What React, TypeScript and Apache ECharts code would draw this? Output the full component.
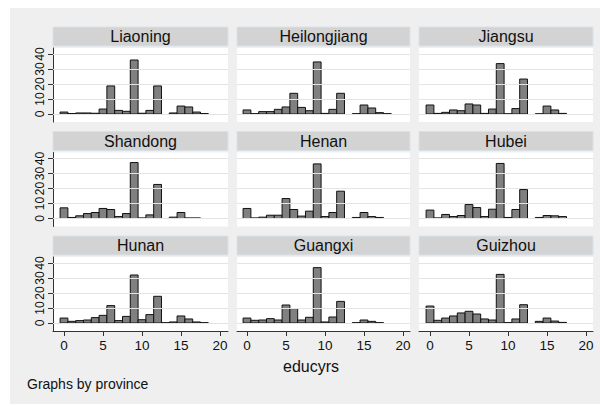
import React, { useEffect, useRef } from "react";
import * as echarts from "echarts";

const provinces = ["Liaoning", "Heilongjiang", "Jiangsu", "Shandong", "Henan", "Hubei", "Hunan", "Guangxi", "Guizhou"];
const educyrs = [0, 1, 2, 3, 4, 5, 6, 7, 8, 9, 10, 11, 12, 13, 14, 15, 16, 17, 18];
const xTicks = [0, 5, 10, 15, 20];
const yTicks = [0, 10, 20, 30, 40];

const liaoning = [1.3, 0.3, 0.7, 0.7, 0.5, 3.3, 18.7, 2.4, 1.8, 36, 0.5, 2.4, 18.7, null, 0.7, 5.3, 4.7, 1.3, 0.3];
const heilongjiang = [2.7, 0.2, 1.6, 1.6, 3.1, 4.7, 13.8, 4.4, 2.2, 34.7, 0.4, 3.1, 13.8, null, 0.2, 6, 4, 0.9, 0.2];
const jiangsu = [6, 0.4, 1.1, 2.7, 2.2, 6.7, 6, 0.4, 3.3, 33.6, 0.1, 3.6, 23.3, null, 0.1, 5.3, 2.7, 0.4, null];
const shandong = [7.1, 0.7, 1.8, 3.3, 4, 6.7, 6, 1.3, 3.3, 37.3, 0.4, 2.4, 22.7, null, 0.9, 4, 0.4, 0.4, null];
const henan = [6.7, 0.4, 0.9, 2.2, 2.2, 13.3, 6, 1.6, 4.9, 36.4, 1.3, 4, 18.2, null, 0.7, 4, 1.3, 0.7, null];
const hubei = [5.6, 0.4, 2.7, 1.3, 2, 9.3, 7.3, 1.3, 6.2, 36.7, 0.7, 6, 19.3, null, 0.7, 2, 1.8, 1.3, null];
const hunan = [3.3, 1.1, 1.6, 2, 3.6, 5.1, 11.6, 1.6, 4.4, 32, 2.2, 5.6, 17.8, 0.2, 0.7, 4.7, 2.7, 0.7, 0.2];
const guangxi = [3.3, 1.8, 2, 2.9, 2, 12, 9.6, 2, 3.8, 36.9, 0.7, 4, 14.4, null, 0.2, 2, 1.1, 0.2, null];
const guizhou = [11.3, 1.8, 3.3, 4.7, 6.7, 7.8, 6, 2.7, 2, 32.4, 0.2, 2.7, 12.2, null, 1.1, 3.3, 1.3, 0.4, null];

const panels = [liaoning, heilongjiang, jiangsu, shandong, henan, hubei, hunan, guangxi, guizhou];

const FONT = "'Liberation Sans', Arial, Helvetica, sans-serif";
const colLefts = [53, 237, 419];
const colWidths = [175, 173, 174];
const rowTops = [48, 152.5, 257];
const plotH = 74;

export default function App() {
  const ref = useRef<HTMLDivElement>(null);
  useEffect(() => {
    if (!ref.current) return;
    const chart = echarts.init(ref.current, null, { renderer: "svg" });
    const grids: any[] = [];
    const xAxes: any[] = [];
    const yAxes: any[] = [];
    const series: any[] = [];
    const graphics: any[] = [
      { type: "rect", shape: { x: 10, y: 8, width: 590, height: 396 }, style: { fill: "#efefef" }, z: -10 },
    ];
    panels.forEach((vals, i) => {
      const r = Math.floor(i / 3);
      const c = i % 3;
      grids.push({
        left: colLefts[c],
        top: rowTops[r],
        width: colWidths[c],
        height: plotH,
        show: true,
        backgroundColor: "#ffffff",
        borderWidth: 0,
        containLabel: false,
        outerBoundsMode: "none",
      });
      const bottomRow = r === 2;
      const leftCol = c === 0;
      xAxes.push({
        type: "value",
        gridIndex: i,
        min: c === 1 ? -1.28 : -1.41,
        max: c === 1 ? 20.9 : c === 2 ? 20.9 : 21.03,
        show: bottomRow,
        position: "bottom",
        splitLine: { show: false },
        axisLine: { show: true, onZero: false, lineStyle: { color: "#333", width: 1 } },
        axisTick: { show: true, length: 5, customValues: xTicks, lineStyle: { color: "#333" } },
        axisLabel: { show: true, customValues: xTicks, margin: 7, fontSize: 13.5, color: "#111", fontFamily: FONT },
      });
      yAxes.push({
        type: "value",
        gridIndex: i,
        min: -5.33,
        max: 44,
        show: leftCol,
        splitLine: { show: false },
        axisLine: { show: true, onZero: false, lineStyle: { color: "#333", width: 1 } },
        axisTick: { show: true, length: 5, customValues: yTicks, lineStyle: { color: "#333" } },
        axisLabel: { show: true, customValues: yTicks, rotate: 90, margin: 7, fontSize: 12, color: "#111", fontFamily: FONT },
      });
      series.push({
        type: "line",
        xAxisIndex: i,
        yAxisIndex: i,
        data: [],
        z: 1,
        silent: true,
        markLine: {
          silent: true,
          symbol: "none",
          label: { show: false },
          lineStyle: { color: "#e4e4e4", width: 1, type: "solid" },
          data: yTicks.map((t) => ({ yAxis: t })),
        },
      });
      series.push({
        type: "custom",
        xAxisIndex: i,
        yAxisIndex: i,
        z: 3,
        data: educyrs.map((x, k) => [x, vals[k]]).filter((d) => d[1] !== null),
        encode: { x: 0, y: 1 },
        renderItem: (params: any, api: any) => {
          const x = api.value(0);
          const v = api.value(1);
          const p0 = api.coord([x - 0.5, v]);
          const p1 = api.coord([x + 0.5, 0]);
          return {
            type: "rect",
            shape: { x: p0[0], y: p0[1], width: p1[0] - p0[0], height: p1[1] - p0[1] },
            style: { fill: "#808080", stroke: "#111", lineWidth: 1 },
          };
        },
      });
      graphics.push({
        type: "rect",
        shape: { x: colLefts[c], y: rowTops[r] - 21, width: colWidths[c], height: 19 },
        style: { fill: "#d3d3d3", stroke: "#d6e2e8", lineWidth: 1 },
        z: -5,
      });
      graphics.push({
        type: "text",
        x: colLefts[c] + colWidths[c] / 2,
        y: rowTops[r] - 11.5,
        style: {
          text: provinces[i],
          fill: "#111",
          font: `16px ${FONT}`,
          textAlign: "center",
          textVerticalAlign: "middle",
        },
      });
    });
    graphics.push({
      type: "text",
      x: 311,
      y: 366,
      style: { text: "educyrs", fill: "#111", font: `16px ${FONT}`, textAlign: "center", textVerticalAlign: "middle" },
    });
    graphics.push({
      type: "text",
      x: 27,
      y: 384,
      style: { text: "Graphs by province", fill: "#111", font: `14px ${FONT}`, textAlign: "left", textVerticalAlign: "middle" },
    });
    chart.setOption({
      animation: false,
      backgroundColor: "#ffffff",
      grid: grids,
      xAxis: xAxes,
      yAxis: yAxes,
      series,
      graphic: graphics,
    });
    return () => chart.dispose();
  }, []);
  return <div ref={ref} style={{ position: "fixed", left: 0, top: 0, width: 600, height: 406 }} />;
}
